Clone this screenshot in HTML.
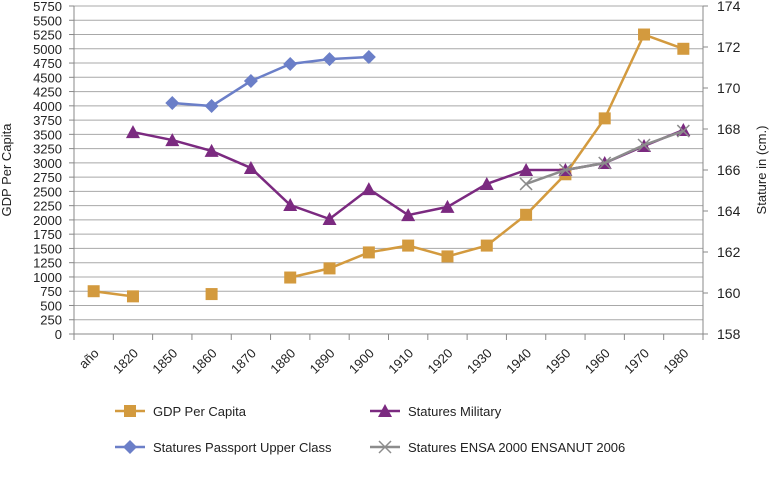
<!DOCTYPE html>
<html><head><meta charset="utf-8"><style>
html,body{margin:0;padding:0;background:#fff;}
svg{display:block;font-family:"Liberation Sans",sans-serif;}
</style></head><body>
<svg id="chart" width="772" height="484" viewBox="0 0 772 484"></svg>
<script>
const categories=["año","1820","1850","1860","1870","1880","1890","1900","1910","1920","1930","1940","1950","1960","1970","1980"];
const gdp=[750,660,null,700,null,990,1150,1430,1550,1360,1550,2090,2800,3780,5250,5000];
const military=[null,167.85,167.46,166.93,166.1,164.29,163.61,165.07,163.8,164.2,165.32,166.0,166.0,166.34,167.17,167.95];
const passport=[null,null,169.27,169.12,170.34,171.17,171.41,171.51,null,null,null,null,null,null,null,null];
const ensa=[null,null,null,null,null,null,null,null,null,null,null,165.32,166.0,166.34,167.22,167.9];
const leftTicks=[0,250,500,750,1000,1250,1500,1750,2000,2250,2500,2750,3000,3250,3500,3750,4000,4250,4500,4750,5000,5250,5500,5750];
const rightTicks=[158,160,162,164,166,168,170,172,174];

const svg=document.getElementById('chart');
const NS='http://www.w3.org/2000/svg';
const L=74,R=703,T=6,B=334;
const bw=(R-L)/categories.length;
function xs(i){return L+bw*(i+0.5);}
function yl(v){return B-(v/5750)*(B-T);}
function yr(v){return B-((v-158)/16)*(B-T);}
function mk(tag,attrs,parent){const e=document.createElementNS(NS,tag);for(const k in attrs)e.setAttribute(k,attrs[k]);(parent||svg).appendChild(e);return e;}

leftTicks.forEach(v=>{
  const y=yl(v);
  if(v>0){const gl=mk('line',{x1:L,y1:y,x2:R,y2:y,stroke:'#a8a8a8','stroke-width':1});
  
  }
  mk('line',{x1:L-5,y1:y,x2:L,y2:y,stroke:'#888'});
  const t=mk('text',{x:L-12,y:y+5,'text-anchor':'end','font-size':13,fill:'#222'});
  t.textContent=v;
  
  
});
let a=mk('line',{x1:L,y1:T,x2:L,y2:B,stroke:'#888'});


a=mk('line',{x1:R,y1:T,x2:R,y2:B,stroke:'#888'});


a=mk('line',{x1:L,y1:B,x2:R,y2:B,stroke:'#888'});



rightTicks.forEach(v=>{
  const y=yr(v);
  mk('line',{x1:R,y1:y,x2:R+5,y2:y,stroke:'#888'});
  const t=mk('text',{x:R+14,y:y+5,'font-size':14,fill:'#222'});
  t.textContent=v;
  
  
});
for(let i=0;i<=categories.length;i++){
  const x=L+bw*i;
  mk('line',{x1:x,y1:B,x2:x,y2:B+6,stroke:'#888'});
}
categories.forEach((c,i)=>{
  const x=xs(i)+6,y=B+20;
  const t=mk('text',{x:x,y:y,'text-anchor':'end','font-size':13,fill:'#222',transform:`rotate(-45 ${x} ${y})`});
  t.textContent=c;
  
  
});
let t=mk('text',{x:11,y:(T+B)/2,'text-anchor':'middle','font-size':13,fill:'#222',transform:`rotate(-90 11 ${(T+B)/2})`});
t.textContent='GDP Per Capita';


t=mk('text',{x:766,y:(T+B)/2,'text-anchor':'middle','font-size':13,fill:'#222',transform:`rotate(-90 766 ${(T+B)/2})`});
t.textContent='Stature in (cm.)';



function marker(type,x,y,color,g){
  if(type==='square')mk('rect',{x:x-6,y:y-6,width:12,height:12,fill:color},g);
  else if(type==='tri')mk('polygon',{points:`${x},${y-7} ${x+7},${y+6} ${x-7},${y+6}`,fill:color},g);
  else if(type==='diamond')mk('polygon',{points:`${x},${y-7} ${x+7},${y} ${x},${y+7} ${x-7},${y}`,fill:color},g);
  else {mk('line',{x1:x-6,y1:y-6,x2:x+6,y2:y+6,stroke:color,'stroke-width':1.5},g);mk('line',{x1:x-6,y1:y+6,x2:x+6,y2:y-6,stroke:color,'stroke-width':1.5},g);}
}
function series(vals,scale,color,type,name){
  const g=mk('g',{});
  
  
  let seg=[];
  const segs=[];
  vals.forEach((v,i)=>{ if(v==null){if(seg.length)segs.push(seg);seg=[];} else seg.push([xs(i),scale(v)]); });
  if(seg.length)segs.push(seg);
  segs.forEach(s=>{ if(s.length>1) mk('polyline',{points:s.map(p=>p.join(',')).join(' '),fill:'none',stroke:color,'stroke-width':2.5},g); });
  vals.forEach((v,i)=>{ if(v!=null) marker(type,xs(i),scale(v),color,g); });
}
series(gdp,yl,'#d39a3e','square','gdp-series');
series(passport,yr,'#6b7fc8','diamond','passport-series');
series(military,yr,'#7b2a80','tri','military-series');
series(ensa,yr,'#8c8c8c','x','ensa-series');

const legend=[["GDP Per Capita",'#d39a3e','square',115,411],["Statures Military",'#7b2a80','tri',370,411],["Statures Passport Upper Class",'#6b7fc8','diamond',115,447],["Statures ENSA 2000 ENSANUT 2006",'#8c8c8c','x',370,447]];
legend.forEach(l=>{
  const g=mk('g',{});
  
  
  mk('line',{x1:l[3],y1:l[4],x2:l[3]+30,y2:l[4],stroke:l[1],'stroke-width':2.5},g);
  marker(l[2],l[3]+15,l[4],l[1],g);
  const tx=mk('text',{x:l[3]+38,y:l[4]+5,'font-size':13,fill:'#222'},g);
  tx.textContent=l[0];
});
</script>
</body></html>
